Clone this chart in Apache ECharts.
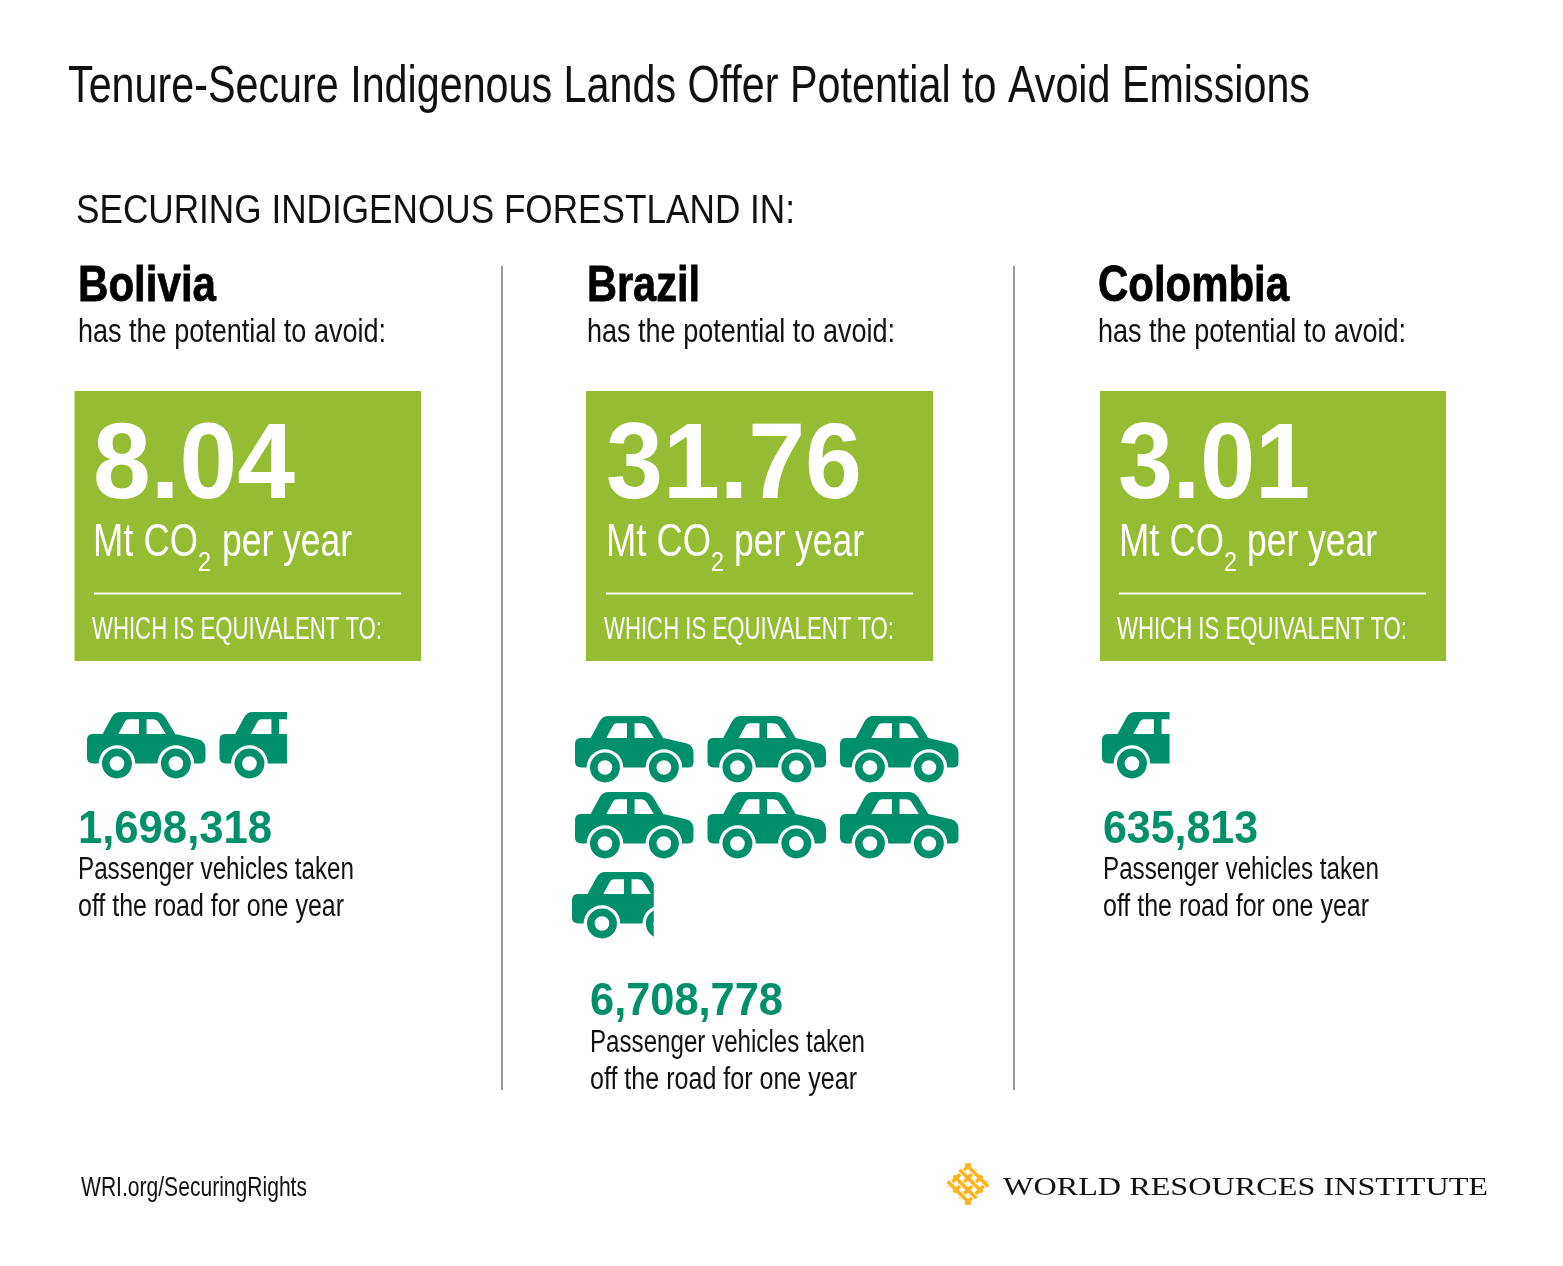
<!DOCTYPE html>
<html>
<head>
    <title>Tenure-Secure Indigenous Lands</title>
    <meta http-equiv="Content-Type" content="text/html; charset=UTF-8"/>
    <script src="https://cdn.jsdelivr.net/npm/echarts@6/dist/echarts.min.js"></script>
    <style>
        html, body { margin: 0; padding: 0; background: #fff; }
    </style>
</head>
<body>
<div id="main" style="width: 1563px; height: 1266px;"></div>
<script type="text/javascript">
    var myChart = echarts.init(document.getElementById('main'));

    var GREEN = '#008f6b', LIME = '#96bc33', GOLD = '#fbb41e', SANS = '"Liberation Sans Narrow", "Liberation Sans", sans-serif';
    var CAR = 'path://M100 132L128 132L155 82Q164 66 182 66L285 66Q305 66 316 82L346 132L415 148Q437 154 437 178L437 205Q437 221 420 221L403 221A55 55 0 0 0 293 221L226 221A55 55 0 0 0 116 221L100 221Q81 221 81 203L81 150Q81 132 100 132Z'
        + 'M175 132L237 132L237 88L208 88Q199 88 195 95ZM260 132L318 132L297 98Q290 88 278 88L260 88Z'
        + 'M126 221A45 45 0 1 1 216 221A45 45 0 1 1 126 221ZM149 221A22 22 0 1 0 193 221A22 22 0 1 0 149 221Z'
        + 'M303 221A45 45 0 1 1 393 221A45 45 0 1 1 303 221ZM326 221A22 22 0 1 0 370 221A22 22 0 1 0 326 221Z';
    var CAR_W = 118.5, CAR_H = 66.5, PITCH = 132.5;
    // three icons with two gaps, in units of one pitch
    var ROW_W = CAR_W * 3 + (PITCH - CAR_W) * 2, ROW_MAX = ROW_W / PITCH;

    // columns of the graphic
    var regions = [
        {name: 'Bolivia', nameX: 78, nameW: 138, potX: 78, box: 74.5, boxW: 346.5, mt: '8.04', mtX: 93, mtW: 202, unitX: 93, perX: 222,
            ruleX: 94, eqX: 92, veh: '1,698,318', vehX: 78, vehW: 194, vehY: 843, lineY: 879, pX: 78, pW: [276, 266]},
        {name: 'Brazil', nameX: 587, nameW: 113, potX: 587, box: 586, boxW: 347, mt: '31.76', mtX: 606, mtW: 256, unitX: 606, perX: 734,
            ruleX: 606, eqX: 604, veh: '6,708,778', vehX: 590, vehW: 193, vehY: 1015, lineY: 1052, pX: 590, pW: [275, 267]},
        {name: 'Colombia', nameX: 1098, nameW: 191, potX: 1098, box: 1100, boxW: 346, mt: '3.01', mtX: 1118, mtW: 192, unitX: 1119, perX: 1247,
            ruleX: 1119, eqX: 1117, veh: '635,813', vehX: 1103, vehW: 155, vehY: 843, lineY: 879, pX: 1103, pW: [276, 266]}
    ];

    // rows of cars: cars = how many icons are filled in that row
    var carRows = [
        {name: 'Bolivia', left: 87, top: 712, cars: 1.57},
        {name: 'Brazil', left: 575, top: 716, cars: 3},
        {name: 'Brazil', left: 575, top: 792, cars: 3},
        {name: 'Brazil', left: 572, top: 872, cars: 0.69},
        {name: 'Colombia', left: 1102, top: 712, cars: 0.57}
    ];

    var measure = document.createElement('canvas').getContext('2d');

    // text squeezed to the width it has in the picture
    function txt(str, x, base, size, width, opt) {
        opt = opt || {};
        var weight = opt.bold ? 'bold' : 'normal';
        var family = opt.family || SANS;
        measure.font = weight + ' ' + size + 'px ' + family;
        var sx = width ? width / measure.measureText(str).width : 1;
        var color = opt.color || '#111';
        return {
            type: 'text', silent: true, z: 5,
            x: x, y: base - size * 0.28, scaleX: sx,
            style: {
                text: str, x: 0, y: 0,
                font: weight + ' ' + size + 'px ' + family,
                fill: color,
                stroke: opt.heavy ? color : null,
                lineWidth: opt.heavy || 0,
                align: 'left', verticalAlign: 'middle'
            }
        };
    }

    function rule(x1, y1, x2, y2, color, w) {
        return {
            type: 'line', silent: true, z: 5,
            shape: {x1: x1, y1: y1, x2: x2, y2: y2},
            style: {stroke: color, lineWidth: w}
        };
    }

    var graphic = [
        txt('Tenure-Secure Indigenous Lands Offer Potential to Avoid Emissions', 68, 102, 52, 1242),
        txt('SECURING INDIGENOUS FORESTLAND IN:', 76, 223, 41, 719),
        rule(502, 266, 502, 1090, '#9a9b90', 2),
        rule(1014, 266, 1014, 1090, '#9a9b90', 2),
        txt('WRI.org/SecuringRights', 81, 1196, 28, 226),
        txt('WORLD RESOURCES INSTITUTE', 1003, 1195, 26, 485, {family: '"Liberation Serif", serif'})
    ];

    regions.forEach(function (r) {
        graphic.push(
            txt(r.name, r.nameX, 301, 50, r.nameW, {bold: true, color: '#000', heavy: 0.8}),
            txt('has the potential to avoid:', r.potX, 342, 33, 308),
            {type: 'rect', silent: true, z: 1, shape: {x: r.box, y: 391, width: r.boxW, height: 270}, style: {fill: LIME}},
            txt(r.mt, r.mtX, 498, 108, r.mtW, {bold: true, color: '#fff'}),
            txt('Mt CO', r.unitX, 556, 47, 105, {color: '#fff'}),
            txt('2', r.unitX + 105, 571, 27, 13, {color: '#fff'}),
            txt('per year', r.perX, 556, 47, 130, {color: '#fff'}),
            rule(r.ruleX, 593.5, r.ruleX + 307, 593.5, '#fff', 2),
            txt('WHICH IS EQUIVALENT TO:', r.eqX, 639, 31, 290, {color: '#fff'}),
            txt(r.veh, r.vehX, r.vehY, 46, r.vehW, {bold: true, color: GREEN}),
            txt('Passenger vehicles taken', r.pX, r.lineY, 31, r.pW[0]),
            txt('off the road for one year', r.pX, r.lineY + 37, 31, r.pW[1])
        );
    });

    // logo mark: strands woven over and under
    var weave = [], strands = [-12.5, -4.2, 4.2, 12.5];
    strands.forEach(function (d) {
        weave.push(rule(d, -16, d, 16, GOLD, 3.6));
    });
    strands.forEach(function (d) {
        weave.push(rule(-16, d, 16, d, GOLD, 3.6));
    });
    strands.forEach(function (a, i) {
        strands.forEach(function (b, j) {
            if ((i + j) % 2 === 0) {
                weave.push(rule(a, b - 2.6, a, b + 2.6, '#fff', 5.6));
                weave.push(rule(a, b - 3.2, a, b + 3.2, GOLD, 3.6));
            }
        });
    });
    graphic.push({type: 'group', silent: true, x: 968, y: 1184, rotation: Math.PI / 4, z: 5, children: weave});

    var grids = [], xAxes = [], yAxes = [], series = [];
    carRows.forEach(function (row, i) {
        grids.push({left: row.left, top: row.top, width: ROW_W, height: CAR_H});
        xAxes.push({type: 'value', gridIndex: i, min: 0, max: ROW_MAX, show: false});
        yAxes.push({type: 'category', gridIndex: i, data: [row.name], show: false});
        var whole = Math.floor(row.cars), part = row.cars - whole;
        series.push({
            type: 'pictorialBar',
            xAxisIndex: i,
            yAxisIndex: i,
            silent: true,
            symbol: CAR,
            symbolSize: [CAR_W, CAR_H],
            symbolRepeat: 3,
            symbolClip: true,
            symbolBoundingData: ROW_MAX,
            symbolPosition: 'start',
            itemStyle: {color: GREEN},
            // the gap between icons is not part of a car
            data: [whole + part * CAR_W / PITCH]
        });
    });

    var option = {
        animation: false,
        backgroundColor: '#fff',
        grid: grids,
        xAxis: xAxes,
        yAxis: yAxes,
        series: series,
        graphic: graphic
    };
    myChart.setOption(option);
</script>
</body>
</html>
